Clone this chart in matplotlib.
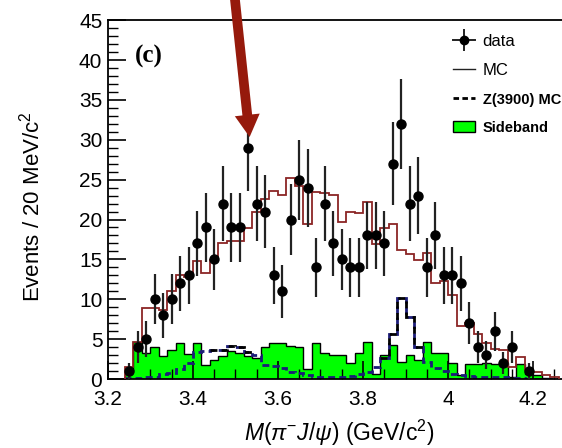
import numpy as np
import matplotlib
matplotlib.use("Agg")
import matplotlib.pyplot as plt
from matplotlib.lines import Line2D
from matplotlib.patches import Patch
from matplotlib.legend_handler import HandlerTuple
from matplotlib.ticker import MultipleLocator

plt.rcParams['font.family'] = ['Liberation Sans', 'DejaVu Sans']
plt.rcParams['mathtext.fontset'] = 'custom'
plt.rcParams['mathtext.rm'] = 'Liberation Sans'
plt.rcParams['mathtext.it'] = 'Liberation Sans:italic'

# 20 MeV bins from 3.24 to 4.26 GeV/c^2
edges = np.round(np.arange(3.24, 4.2601, 0.02), 2)
centers = (edges[:-1] + edges[1:]) / 2

# data counts per bin
data = [1, 4, 5, 10, 8, 10, 12, 13, 17, 19, 15, 22, 19, 19, 29, 22, 21, 13, 11, 20,
        25, 24, 14, 22, 17, 15, 14, 14, 18, 18, 17, 27, 32, 22, 23, 14, 18, 13, 13, 12,
        7, 4, 3, 6, 2, 4, 0, 1, 0, 0, 0]

# signal MC (solid dark red)
mc = [1.5, 4.6, 8.9, 8.9, 8.7, 11.0, 13.1, 12.8, 14.8, 13.3, 14.9, 17.0, 17.3, 17.3, 18.9,
      20.9, 22.6, 23.6, 23.1, 25.2, 24.2, 19.5, 23.5, 23.3, 23.1, 19.7, 20.9, 20.8, 22.2, 16.9,
      18.9, 19.5, 16.2, 15.7, 14.9, 15.8, 12.0, 12.3, 10.5, 6.6, 7.0, 5.7, 4.5, 3.8, 3.7,
      1.5, 2.8, 1.1, 0.9, 0.5, 0.2]

# Z(3900) MC (dashed)
zmc = [0.1, 0.1, 0.2, 0.3, 0.6, 0.8, 1.2, 2.0, 3.4, 3.5, 3.7, 3.7, 4.2, 4.0, 3.4,
       3.0, 1.75, 1.6, 1.4, 0.9, 0.7, 0.5, 0.2, 0.2, 0.3, 0.3, 0.4, 0.6, 0.9, 1.5,
       2.6, 5.7, 10.2, 7.8, 4.0, 2.1, 1.4, 1.0, 0.6, 0.5, 0.4, 0.3, 0.3, 0.2, 0.2,
       0.1, 0.1, 0.0, 0.0, 0.0, 0.0]

# sideband (green filled)
sideband = [1.0, 4.6, 3.2, 4.0, 2.9, 3.6, 4.5, 3.1, 4.5, 1.75, 2.4, 2.9, 3.5, 3.2, 2.9,
            2.6, 4.0, 4.5, 4.5, 4.2, 4.0, 1.3, 4.5, 3.3, 3.0, 3.0, 2.0, 3.3, 4.6, 0.6,
            3.0, 4.3, 2.1, 3.0, 2.4, 4.6, 3.3, 3.3, 2.0, 0.5, 1.9, 1.9, 2.0, 1.9, 2.0,
            0.3, 1.9, 0.6, 0.5, 0.1, 0.0]

data = np.array(data, dtype=float)

fig = plt.figure(figsize=(5.62, 4.48), dpi=100)
ax = fig.add_axes([0.192, 0.154, 0.808, 0.801])

ax.stairs(sideband, edges, fill=True, color='#00ff00', zorder=1)
ax.stairs(sideband, edges, color='black', lw=1.0, zorder=1.5)

# dashed Z(3900) MC: navy, black over the hump and the peak
ax.stairs(zmc, edges, color='#1c1c78', lw=2.0, ls=(0, (2.5, 1.5)), zorder=2)
for i0, i1 in [(10, 15), (30, 35)]:
    ax.stairs(zmc[i0:i1], edges[i0:i1 + 1], color='black', lw=2.0,
              ls=(0, (2.5, 1.5)), baseline=None, zorder=2.1)

ax.stairs(mc, edges, color='#8b2525', lw=1.3, zorder=3)

mask = data > 0
ax.errorbar(centers[mask], data[mask], yerr=np.sqrt(data[mask]), fmt='o',
            color='black', ecolor='#222222', elinewidth=1.6, markersize=6.5,
            capsize=0, zorder=4)

ax.set_xlim(3.2, 4.268)
ax.set_ylim(0, 45)
ax.xaxis.set_major_locator(MultipleLocator(0.2))
ax.xaxis.set_minor_locator(MultipleLocator(0.05))
ax.yaxis.set_major_locator(MultipleLocator(5))
ax.yaxis.set_minor_locator(MultipleLocator(1))
ax.set_xticks([3.2, 3.4, 3.6, 3.8, 4.0, 4.2])
ax.set_xticklabels(['3.2', '3.4', '3.6', '3.8', '4', '4.2'])
ax.tick_params(which='both', direction='in', top=False, right=False, labelsize=15)
ax.tick_params(which='major', length=13, width=1.2)
ax.tick_params(which='minor', length=7, width=1.0)
ax.tick_params(axis='x', pad=8)
ax.tick_params(axis='y', pad=4)
ax.spines['right'].set_visible(False)
for s in ['left', 'bottom', 'top']:
    ax.spines[s].set_linewidth(1.3)

ax.set_ylabel('Events / 20 MeV/c$^{2}$', fontsize=16)
ax.yaxis.set_label_coords(-0.14, 0.48)
ax.set_xlabel(r'$M(\pi^{-}J/\psi)$ (GeV/c$^{2}$)', fontsize=16.5)
ax.xaxis.set_label_coords(0.51, -0.15)
ax.xaxis.label.set_va('center')

ax.text(0.09, 0.9, '(c)', transform=ax.transAxes, fontsize=18, fontweight='bold',
        family='Liberation Serif', ha='center', va='center')

# red arrow pointing at the 3.53 bin
ax.annotate('', xy=(3.534, 30.0), xytext=(3.496, 49.0),
            arrowprops=dict(arrowstyle='simple,head_length=1.6,head_width=1.8,tail_width=0.7',
                            color='#961a0c', lw=0),
            annotation_clip=False, zorder=6)

# data symbol: cross with a dot
data_handle = (Line2D([], [], color='#222222', lw=1.4),
               Line2D([], [], color='#222222', marker='|', ms=16, mew=1.4, ls='none'),
               Line2D([], [], color='black', marker='o', ms=6, ls='none'))
handles = [data_handle,
           Line2D([], [], color='#222222', lw=1.0),
           Line2D([], [], color='black', lw=2.0, ls=(0, (2, 1.2))),
           Patch(facecolor='#00ff00', edgecolor='black', lw=1.0)]
labels = ['data', 'MC', 'Z(3900) MC', 'Sideband']
leg = fig.legend(handles, labels, loc='upper left', bbox_to_anchor=(0.795, 0.94),
                 frameon=False, fontsize=12, labelspacing=0.85, handlelength=1.3,
                 handletextpad=0.45, borderaxespad=0,
                 handler_map={tuple: HandlerTuple(ndivide=1)})
for t in leg.get_texts()[2:]:
    t.set_fontweight('bold')
    t.set_fontsize(10.5)

fig.savefig('out.png', dpi=100)
